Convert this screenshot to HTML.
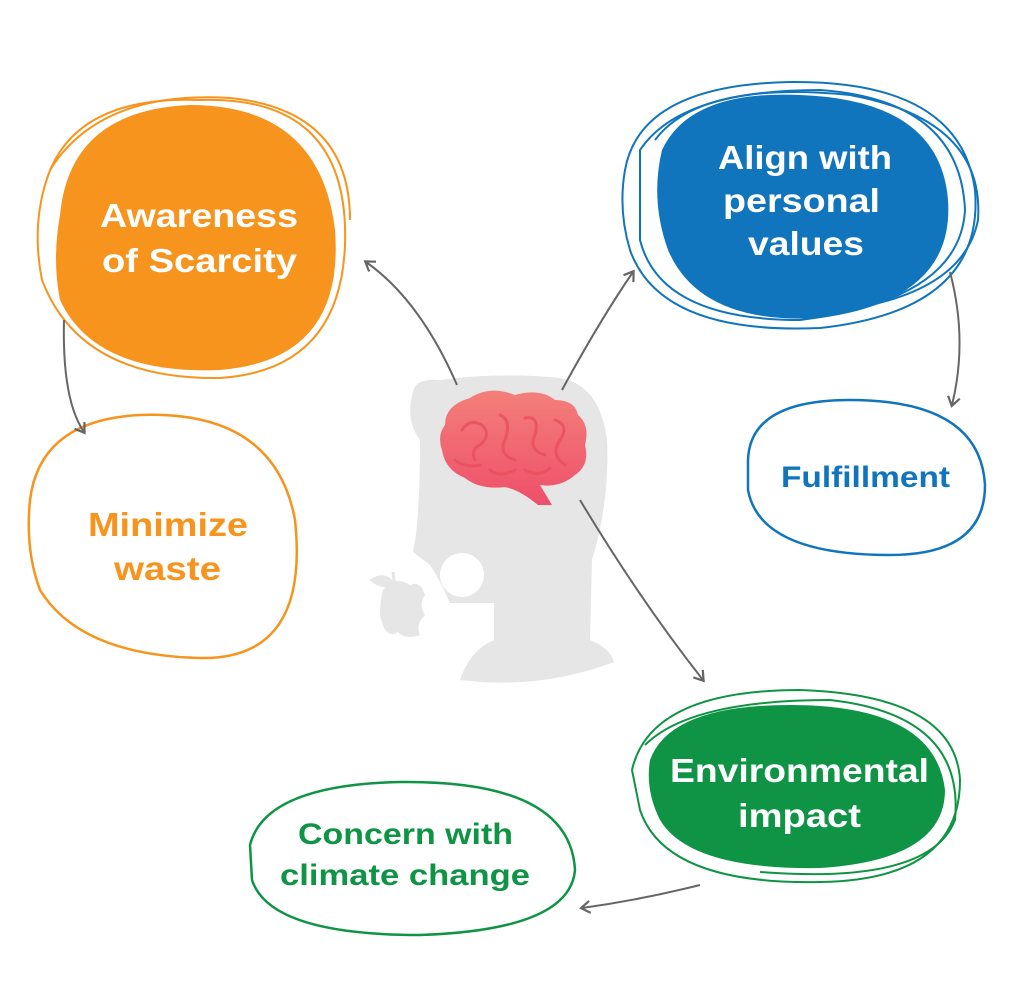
<!DOCTYPE html>
<html><head><style>
body{margin:0;background:#fff;width:1024px;height:990px;overflow:hidden}
svg{display:block}
text{font-family:"Liberation Sans",sans-serif;font-weight:bold;text-anchor:start}
</style></head><body>
<svg width="1024" height="990" viewBox="0 0 1024 990">
<defs>
<marker id="ah" markerWidth="14" markerHeight="14" refX="9" refY="7" orient="auto" markerUnits="userSpaceOnUse">
<path d="M1,1 L10,7 L1,13" fill="none" stroke="#666" stroke-width="2.2"/>
</marker>
<linearGradient id="br" x1="0" y1="0" x2="0" y2="1"><stop offset="0" stop-color="#f47f7a"/><stop offset="1" stop-color="#ee4f6a"/></linearGradient>
</defs>
<!-- head -->
<path d="M413,392 Q415,378 440,380 Q500,372 560,378 Q600,385 607,440 Q610,500 592,560 L590,640 Q610,648 614,662 Q540,690 460,680 Q470,650 494,640 L494,603 L450,603 Q440,580 430,565 L413,552 Q420,520 420,440 Q405,420 413,392 Z" fill="#e6e6e6"/>
<circle cx="462" cy="575" r="22" fill="#fff"/>
<path d="M383,590 Q395,575 410,585 Q420,580 425,595 Q418,605 425,615 Q415,625 420,635 Q405,640 398,632 Q385,640 380,615 Q380,600 383,590Z" fill="#e6e6e6"/>
<path d="M372,580 Q385,572 395,585 Q380,588 372,580Z M393,572 L395,588" fill="#e6e6e6" stroke="#e6e6e6" stroke-width="3"/>
<!-- brain -->
<path d="M445,425 Q445,405 470,398 Q490,385 515,395 Q540,388 555,400 Q575,400 578,415 Q590,425 585,445 Q590,465 575,475 Q560,488 540,485 L552,505 L538,505 Q520,490 505,487 Q480,490 465,478 Q445,470 442,450 Q437,435 445,425Z" fill="url(#br)"/>
<g fill="none" stroke="#e8505e" stroke-width="3" stroke-linecap="round" opacity=".8">
<path d="M462,430 Q470,418 482,425 Q492,435 480,445 Q470,450 475,460"/>
<path d="M500,415 Q512,420 505,440 Q498,455 515,460"/>
<path d="M525,418 Q540,415 535,435 Q528,450 545,455"/>
<path d="M555,420 Q570,425 560,440 Q550,455 565,465"/>
<path d="M455,460 Q465,468 480,465"/>
<path d="M490,470 Q500,478 515,470"/>
<path d="M525,470 Q540,478 550,468"/>
</g>
<!-- orange -->
<path d="M60,215 Q70,110 190,105 Q320,105 335,230 Q345,360 220,370 Q95,375 60,300 Q52,260 60,215Z" fill="#f7941d"/>
<path d="M45,185 Q70,95 200,100 Q350,95 345,245 Q340,370 220,378 Q80,380 42,280 Q32,230 45,185Z" fill="none" stroke="#f7941d" stroke-width="2"/>
<path d="M50,170 Q100,90 230,98 Q350,110 350,220" fill="none" stroke="#f7941d" stroke-width="2"/>
<text x="100" y="227" font-size="33" fill="#fff" textLength="198" lengthAdjust="spacingAndGlyphs">Awareness</text>
<text x="102" y="272" font-size="33" fill="#fff" textLength="195" lengthAdjust="spacingAndGlyphs">of Scarcity</text>
<path d="M30,500 Q40,420 140,415 Q275,410 295,520 Q310,660 200,658 Q80,655 40,590 Q25,550 30,500Z" fill="none" stroke="#f7941d" stroke-width="2.5"/>
<text x="88" y="536" font-size="33" fill="#f7941d" textLength="160" lengthAdjust="spacingAndGlyphs">Minimize</text>
<text x="114" y="580" font-size="33" fill="#f7941d" textLength="107" lengthAdjust="spacingAndGlyphs">waste</text>
<!-- blue -->
<path d="M662,150 Q690,90 800,95 Q940,100 948,200 Q955,300 820,318 Q700,325 668,250 Q650,200 662,150Z" fill="#1075bc"/>
<g fill="none" stroke="#1075bc" stroke-width="2">
<path d="M625,170 Q640,85 790,82 Q960,80 975,190 Q985,310 820,328 Q660,335 630,250 Q618,210 625,170Z"/>
<path d="M640,150 Q680,90 820,90 Q960,100 965,210 Q960,300 800,320 Q660,320 640,240Z"/>
<path d="M655,140 Q700,80 850,95 Q985,120 978,220 Q960,310 780,315"/>
</g>
<text x="718" y="169" font-size="33" fill="#fff" textLength="174" lengthAdjust="spacingAndGlyphs">Align with</text>
<text x="723" y="212" font-size="33" fill="#fff" textLength="157" lengthAdjust="spacingAndGlyphs">personal</text>
<text x="748" y="255" font-size="33" fill="#fff" textLength="116" lengthAdjust="spacingAndGlyphs">values</text>
<path d="M748,460 Q750,400 850,400 Q980,400 985,485 Q985,555 890,555 Q760,555 748,490Z" fill="none" stroke="#1075bc" stroke-width="2.5"/>
<text x="781" y="487" font-size="30" fill="#1075bc" textLength="169" lengthAdjust="spacingAndGlyphs">Fulfillment</text>
<!-- green -->
<path d="M650,760 Q670,705 790,705 Q935,705 945,790 Q945,860 820,868 Q690,870 660,820 Q645,790 650,760Z" fill="#0e9444"/>
<g fill="none" stroke="#0e9444" stroke-width="2">
<path d="M632,770 Q650,690 800,690 Q955,695 960,780 Q960,880 820,882 Q665,885 640,810Z"/>
<path d="M645,745 Q690,700 830,700 Q965,715 955,820 Q930,885 760,872"/>
</g>
<text x="670" y="782" font-size="33" fill="#fff" textLength="259" lengthAdjust="spacingAndGlyphs">Environmental</text>
<text x="738" y="827" font-size="33" fill="#fff" textLength="123" lengthAdjust="spacingAndGlyphs">impact</text>
<path d="M250,845 Q265,785 400,782 Q570,780 575,870 Q570,930 420,935 Q270,935 252,880Z" fill="none" stroke="#0e9444" stroke-width="2.5"/>
<text x="298" y="844" font-size="30" fill="#0e9444" textLength="215" lengthAdjust="spacingAndGlyphs">Concern with</text>
<text x="280" y="885" font-size="30" fill="#0e9444" textLength="250" lengthAdjust="spacingAndGlyphs">climate change</text>
<!-- arrows -->
<g fill="none" stroke="#666" stroke-width="2" marker-end="url(#ah)">
<path d="M457,385 Q420,300 366,262"/>
<path d="M562,390 Q600,320 633,272"/>
<path d="M950,272 Q968,340 952,405"/>
<path d="M64,320 Q62,400 84,432"/>
<path d="M580,500 Q640,600 703,680"/>
<path d="M700,885 Q640,900 582,908"/>
</g>
</svg>
</body></html>
